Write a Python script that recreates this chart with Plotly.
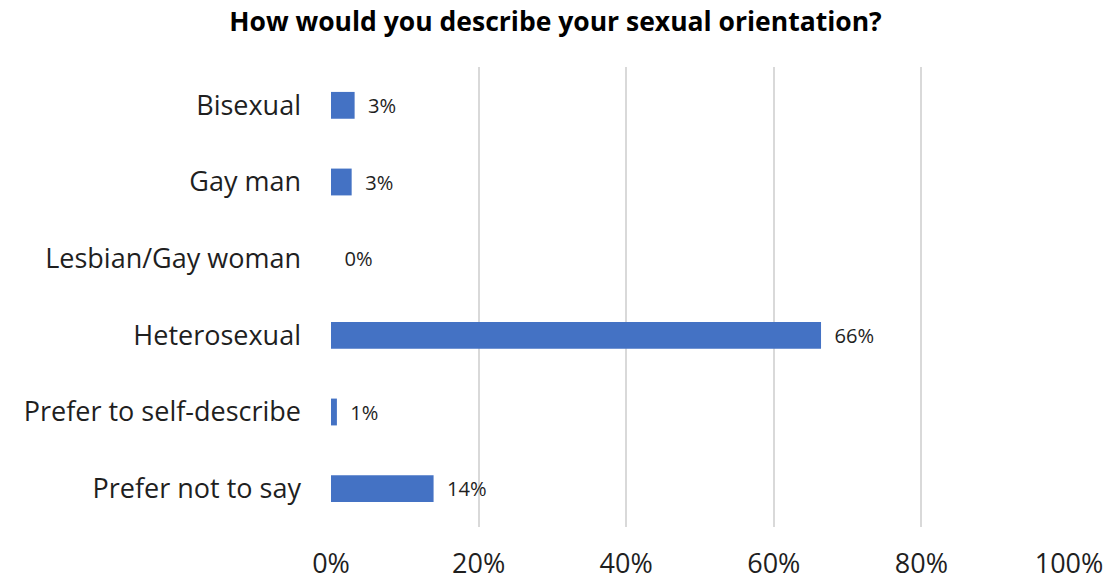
import plotly.graph_objects as go

# Survey responses: share of respondents per orientation (%)
categories = [
    "Bisexual",
    "Gay man",
    "Lesbian/Gay woman",
    "Heterosexual",
    "Prefer to self-describe",
    "Prefer not to say",
]
shares = [3.2, 2.8, 0.0, 66.4, 0.8, 13.9]

tick_values = [0, 20, 40, 60, 80, 100]
tick_labels = ["0%", "20%", "40%", "60%", "80%", "100%"]

title_text = "How would you describe your sexual orientation?"

FONT = "Open Sans"
TEXT_COLOR = "#1f1f1f"
BAR_COLOR = "#4472C4"
GRID_COLOR = "#d9d9d9"

W, H = 1111, 583
plot_left, plot_right = 330.5, 1069.3
plot_top, plot_bottom = 67, 527

fig = go.Figure(
    go.Bar(
        x=shares,
        y=categories,
        orientation="h",
        marker=dict(color=BAR_COLOR, line=dict(width=0)),
        texttemplate="\u00a0\u00a0%{x:.0f}%",
        textposition="outside",
        textfont=dict(family=FONT, size=21, color=TEXT_COLOR),
        cliponaxis=False,
        hoverinfo="skip",
    )
)

fig.update_layout(
    width=W,
    height=H,
    margin=dict(l=plot_left, r=W - plot_right, t=plot_top, b=H - plot_bottom, pad=0, autoexpand=False),
    paper_bgcolor="white",
    plot_bgcolor="white",
    bargap=0.65,
    showlegend=False,
    font=dict(family=FONT, color=TEXT_COLOR),
    title=dict(
        text=f"<b>{title_text}</b>",
        x=0.5,
        xref="container",
        xanchor="center",
        y=1 - 22 / H,
        yref="container",
        yanchor="middle",
        font=dict(family=FONT, size=26.5, color="#000000"),
    ),
    xaxis=dict(
        range=[0, 100],
        tickvals=tick_values,
        ticktext=tick_labels,
        showgrid=True,
        gridcolor=GRID_COLOR,
        gridwidth=1.5,
        zeroline=False,
        showline=False,
        ticks="",
        ticklabelstandoff=18,
        tickfont=dict(family=FONT, size=27, color=TEXT_COLOR),
        automargin=False,
        fixedrange=True,
    ),
    yaxis=dict(
        categoryorder="array",
        categoryarray=categories,
        autorange="reversed",
        showgrid=False,
        zeroline=False,
        showline=False,
        ticks="",
        ticklabelstandoff=29,
        tickfont=dict(family=FONT, size=27, color=TEXT_COLOR),
        automargin=False,
        fixedrange=True,
    ),
)

fig.write_html("out.html")
